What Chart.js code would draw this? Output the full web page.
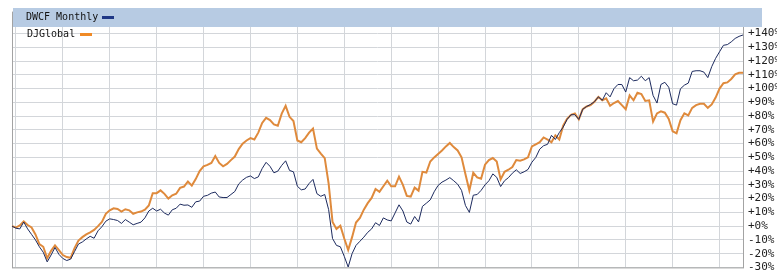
<!DOCTYPE html>
<html lang="en">
<head>
<meta charset="UTF-8">
<title>DWCF Monthly vs DJGlobal</title>
<style>
  html, body { margin: 0; padding: 0; background: #fff; }
  #wrap { width: 777px; height: 279px; }
</style>
</head>
<body>
<div id="wrap"><canvas id="chart" width="777" height="279"></canvas></div>
<script src="https://cdn.jsdelivr.net/npm/chart.js"></script>
<script>
// monthly points, Dec 2001 .. Jul 2017
const startYear = 2001, startMonth = 12, pointCount = 188;
const months = [];
for (let i = 0; i < pointCount; i++) {
  const m = (startMonth - 1 + i) % 12 + 1;
  const y = startYear + Math.floor((startMonth - 1 + i) / 12);
  months.push(y + '-' + String(m).padStart(2, '0'));
}

// % change
const dwcf = [
  0, -1.5, -2, 3, -2, -6, -10, -15, -19, -26,
  -21, -15.5, -20.5, -23.5, -25, -24, -18.5, -13, -11.5, -9.3,
  -7.4, -8.8, -3.4, -0.4, 3.6, 5.3, 4.8, 4.1, 2, 4.8,
  2.9, 1, 2, 2.9, 6, 11, 13, 11, 12.3, 9.5,
  8, 11.9, 13, 16, 15.2, 15.4, 13.7, 17.7, 18.2, 21.7,
  22.4, 24, 24.8, 21.2, 20.8, 20.8, 23, 25.2, 30.7, 33.5,
  35.5, 36.5, 34.6, 35.8, 41.9, 46.4, 43.5, 38.8, 40, 44.2,
  47.5, 40.5, 39.5, 29, 26.4, 27, 31, 34, 23.6, 21.7,
  23, 12, -9, -14, -15, -22, -29.7, -20, -14, -11,
  -8, -4.5, -2, 2.5, 0.5, 6, 4.5, 3.8, 9.6, 15.5,
  11, 3, 1.5, 7, 3.1, 14.4, 16.7, 19.1, 25, 29.6,
  32, 33.5, 35.3, 33, 30.5, 26, 15, 10, 22.5, 23,
  26, 30, 33, 38, 35.5, 28.8, 33, 35.3, 38.5, 41,
  38.3, 39.5, 41.2, 46.5, 50, 56, 58.5, 59.5, 66, 63,
  68, 72, 77.6, 81, 81, 77.6, 85, 87, 88.5, 90.5,
  94, 91.5, 97, 94, 100, 103, 103, 97.5, 108, 105.7,
  106.2, 109, 105.7, 108, 95, 89.5, 103, 104.6, 101, 89,
  88, 99.9, 102.5, 104, 112.5, 113, 113, 112, 108, 116,
  122, 126.8, 131.5, 132, 134, 136.5, 138, 139
];
const djGlobal = [
  0, -1, 0.5, 3.5, 0.8, -1, -6, -13, -15, -23.4,
  -18, -14, -17.5, -21, -22.5, -23, -16, -10.5, -8, -6,
  -4.5, -2.7, 0, 3, 9, 11.5, 13, 12.5, 10.6, 12.3,
  11.5, 9, 10, 10.6, 12, 15, 24, 24, 26, 23.5,
  20, 22.4, 23.6, 27.8, 28.8, 32.5, 29.5, 34.2, 40, 43.5,
  44.5, 46, 51, 46, 43.5, 45.2, 48, 50.6, 56, 60,
  62.3, 64, 63, 68, 75, 78.7, 77.1, 74, 73, 81.8,
  87.5, 79.5, 76.4, 62.3, 61, 64, 68, 71, 56.4, 52.8,
  49.4, 31, 3, -2, 0.3, -9, -17.4, -8, 2.6, 6,
  12, 16.7, 20.5, 27, 25, 29, 33, 29, 29, 36,
  30, 22, 21.5, 28, 25.8, 39.5, 39, 47, 50, 52.5,
  55, 58, 60.5, 57.5, 55, 50, 37.7, 25.9, 38.8, 35.5,
  34.5, 44.7, 48, 49.5, 47, 34, 39.5, 41, 43, 48,
  47.5, 48.5, 50, 58, 59.5, 61, 64.5, 63, 61, 66,
  63, 73, 78, 81, 82, 77.6, 85, 87, 88, 90.5,
  94, 91.5, 93, 87.5, 89.5, 91, 88, 85, 95, 91.5,
  97, 96, 91, 91.5, 76, 82, 83.5, 82.5, 78, 69,
  67.5, 77, 82, 80.5, 86, 88, 89, 89, 86, 88.5,
  93.5, 100, 103.9, 104.5, 107, 110.4, 111.5, 111.5
];

const yMin = -30, yMax = 156, yTop = 140;

// header band + legend + frame
const framePlugin = {
  id: 'frame',
  beforeDatasetsDraw(chart) {
    const { ctx, chartArea: a } = chart;
    ctx.save();
    ctx.strokeStyle = '#a3a3a3';
    ctx.lineWidth = 1;
    ctx.strokeRect(a.left + 0.5, a.top + 0.5, a.right - a.left, a.bottom - a.top);

    ctx.fillStyle = '#b7cbe3';
    ctx.fillRect(a.left + 1, 8, 762 - a.left - 1, 19);

    ctx.font = '10px "DejaVu Sans Mono", monospace';
    ctx.textBaseline = 'middle';
    ctx.fillStyle = '#111';
    ctx.fillText('DWCF Monthly', 26, 17.5);
    ctx.fillStyle = '#1f3785';
    ctx.fillRect(102, 16, 12, 3);

    ctx.fillStyle = '#111';
    ctx.fillText('DJGlobal', 27, 34.5);
    ctx.fillStyle = '#f08a26';
    ctx.fillRect(80, 33, 12, 3);
    ctx.restore();
  }
};

new Chart(document.getElementById('chart'), {
  type: 'line',
  data: {
    labels: months,
    datasets: [
      {
        label: 'DWCF Monthly',
        data: dwcf,
        borderColor: '#1c2a5e',
        borderWidth: 1,
        pointRadius: 0,
        tension: 0
      },
      {
        label: 'DJGlobal',
        data: djGlobal,
        borderColor: '#df8a3c',
        borderWidth: 2,
        pointRadius: 0,
        tension: 0
      }
    ]
  },
  options: {
    responsive: false,
    animation: false,
    layout: { padding: { left: 12, top: 5, right: 0, bottom: 10 } },
    plugins: { legend: { display: false }, tooltip: { enabled: false } },
    scales: {
      x: {
        type: 'category',
        offset: false,
        border: { display: false },
        ticks: { display: false, autoSkip: false },
        grid: {
          drawTicks: false,
          color: ctx => (months[ctx.index] || '').endsWith('-01') ? '#d3d6da' : 'rgba(0,0,0,0)'
        },
        afterFit: s => { s.height = 0; }
      },
      y: {
        position: 'right',
        min: yMin,
        max: yMax,
        border: { display: false },
        grid: {
          drawTicks: false,
          tickLength: 0,
          color: ctx => (ctx.tick && ctx.tick.value % 10 === 0 && ctx.tick.value <= yTop) ? '#d3d6da' : 'rgba(0,0,0,0)'
        },
        ticks: {
          stepSize: 10,
          autoSkip: false,
          padding: 5,
          color: '#222',
          font: { family: '"DejaVu Sans Mono", monospace', size: 11 },
          callback: v => (v % 10 !== 0 || v > yTop) ? '' : (v >= 0 ? '+' + v + '%' : v + '%')
        },
        afterFit: s => { s.width = 34; }
      }
    }
  },
  plugins: [framePlugin]
});
</script>
</body>
</html>
